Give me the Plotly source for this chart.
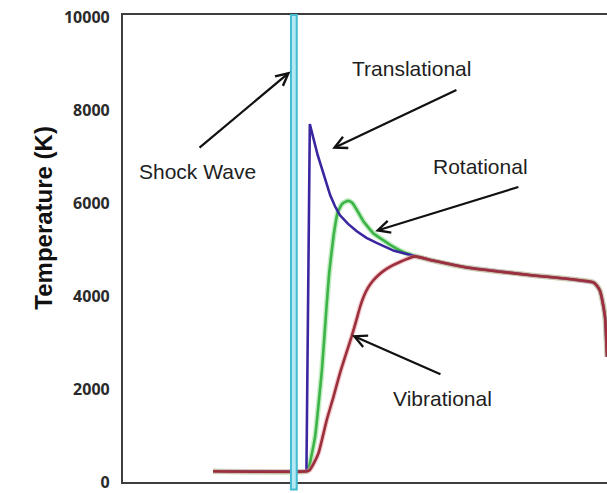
import plotly.graph_objects as go

# Data (x in arbitrary distance units 0-100, temperature in K)
trans_x = [18.6, 37.9, 38.6, 39.4, 40.2, 41.1, 42.0, 42.8, 43.8, 44.8, 46.5, 48.3,
           50.3, 52.4, 56.0, 60.3,
           64.0, 71.0, 77.9, 84.8, 91.7, 95.8, 97.2, 97.9, 98.5, 98.9, 99.6, 100.0]
trans_t = [230, 230, 7710, 7350, 7050, 6750, 6440, 6180, 5940, 5750, 5560, 5400,
           5260, 5150, 4980, 4870,
           4770, 4620, 4530, 4450, 4380, 4330, 4300, 4230, 4130, 3980, 3550, 2700]

rot_x = [18.6, 38.0, 38.4, 39.7, 41.1, 42.0, 42.6, 43.5, 44.4, 45.2, 46.0, 46.7,
         47.4, 48.2, 49.7, 51.7, 55.2, 58.0, 60.3,
         64.0, 71.0, 77.9, 84.8, 91.7, 95.8, 97.2, 97.9, 98.5, 98.9, 99.6, 100.0]
rot_t = [230, 230, 300, 983, 2414, 3700, 4500, 5300, 5825, 5980, 6040, 6055,
         6010, 5880, 5610, 5360, 5110, 4950, 4870,
         4770, 4620, 4530, 4450, 4380, 4330, 4300, 4230, 4130, 3980, 3550, 2700]

vib_x = [18.6, 37.9, 38.6, 39.3, 40.4, 42.1, 43.5, 44.8, 46.0, 47.2, 48.2, 49.0,
         49.8, 50.6, 51.6, 52.7, 54.0, 55.6, 57.2, 58.8, 60.3,
         64.0, 71.0, 77.9, 84.8, 91.7, 95.8, 97.2, 97.9, 98.5, 98.9, 99.6, 100.0]
vib_t = [230, 230, 260, 380, 626, 1339, 1840, 2335, 2734, 3119, 3480, 3780,
         4010, 4180, 4330, 4450, 4560, 4660, 4740, 4810, 4860,
         4770, 4620, 4530, 4450, 4380, 4330, 4300, 4230, 4130, 3980, 3550, 2700]

shock_x = [34.7, 35.9]

y_ticks = [0, 2000, 4000, 6000, 8000, 10000]

labels = ["Shock Wave", "Translational", "Rotational", "Vibrational"]
label_x = [15.3, 59.7, 73.8, 66.1]
label_t = [6686, 8907, 6792, 1794]
arrow_tail_x = [15.5, 69.2, 82.0, 65.9]
arrow_tail_t = [7177, 8459, 6365, 2307]
arrow_head_x = [34.6, 43.2, 52.1, 47.3]
arrow_head_t = [8843, 7177, 5404, 3161]

fig = go.Figure()

fig.add_trace(go.Scatter(x=rot_x, y=rot_t, mode="lines",
                         line=dict(color="rgba(140,220,140,0.5)", width=5.5, shape="spline", smoothing=0.3),
                         hoverinfo="skip", showlegend=False))
fig.add_trace(go.Scatter(x=rot_x, y=rot_t, mode="lines",
                         line=dict(color="#3cb447", width=2.6, shape="spline", smoothing=0.3),
                         showlegend=False))
fig.add_trace(go.Scatter(x=trans_x, y=trans_t, mode="lines",
                         line=dict(color="#3a27a0", width=2.6),
                         showlegend=False))
fig.add_trace(go.Scatter(x=vib_x, y=vib_t, mode="lines",
                         line=dict(color="rgba(230,150,160,0.5)", width=5, shape="spline", smoothing=0.5),
                         hoverinfo="skip", showlegend=False))
fig.add_trace(go.Scatter(x=vib_x, y=vib_t, mode="lines",
                         line=dict(color="#9c2f3c", width=2.6, shape="spline", smoothing=0.5),
                         showlegend=False))

# Shock wave band
fig.add_shape(type="rect", xref="x", yref="paper",
              x0=shock_x[0], x1=shock_x[1], y0=-0.016, y1=1,
              fillcolor="#b4e8f2", line=dict(color="#45bcd4", width=2), layer="above")

annotations = []
for i in range(len(labels)):
    annotations.append(dict(x=arrow_head_x[i], y=arrow_head_t[i], xref="x", yref="y",
                            ax=arrow_tail_x[i], ay=arrow_tail_t[i], axref="x", ayref="y",
                            text="", showarrow=True, arrowhead=5, arrowsize=1.1,
                            arrowwidth=2.2, arrowcolor="#111", standoff=0, startstandoff=0))
    annotations.append(dict(x=label_x[i], y=label_t[i], xref="x", yref="y",
                            text=labels[i], showarrow=False,
                            font=dict(family="Liberation Sans, Arial", size=21, color="#1e1e1e")))

annotations.append(dict(x=(28 - 123) / 484, y=0.565, xref="paper", yref="paper",
                        text="<b>Temperature (K)</b>", showarrow=False, textangle=-90,
                        font=dict(family="Liberation Sans, Arial", size=24, color="#111")))

fig.update_layout(
    width=607, height=493,
    margin=dict(l=123, r=0, t=15, b=7),
    paper_bgcolor="white", plot_bgcolor="white",
    showlegend=False,
    annotations=annotations,
    xaxis=dict(range=[0, 100], showgrid=False, zeroline=False, showticklabels=False,
               ticks="", showline=True, linecolor="#3d3d3d", linewidth=2.2, mirror=True),
    yaxis=dict(range=[0, 10060], showgrid=False, zeroline=False, tickvals=y_ticks,
               tickformat="d", ticklabeloverflow="allow",
               ticks="", showline=True, linecolor="#3d3d3d", linewidth=2.2, mirror=False,
               ticklabelstandoff=8,
               tickfont=dict(family="Open Sans", size=16, color="#2a2a2a", weight="bold")),
)

fig.write_html("out.html", config={"displayModeBar": False},
               post_script="document.body.style.margin='0';document.body.style.overflow='hidden';")
